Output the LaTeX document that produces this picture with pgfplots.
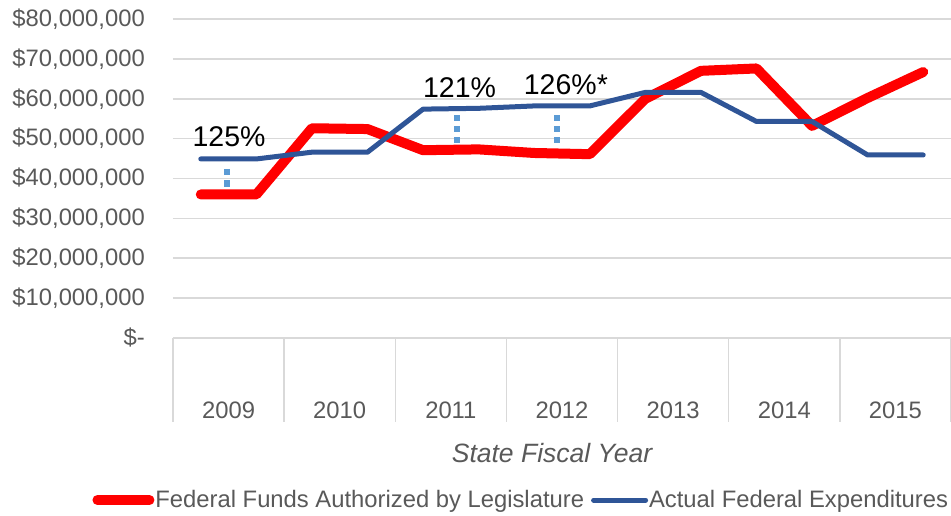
\documentclass[border=0pt]{standalone}
\usepackage{pgfplots}
\pgfplotsset{compat=1.18}
\usepackage{fontspec}
\setmainfont{Liberation Sans}

\definecolor{fedred}{HTML}{FF0000}
\definecolor{fedblue}{HTML}{2F5597}
\definecolor{dotblue}{HTML}{5B9BD5}
\definecolor{gridgray}{HTML}{D9D9D9}
\definecolor{txtgray}{HTML}{595959}

% two points per fiscal year, values in millions of dollars
\pgfplotstableread{
x    authorized actual
0.5  36.0  44.9
1.5  36.0  44.9
2.5  52.6  46.6
3.5  52.4  46.6
4.5  47.1  57.4
5.5  47.3  57.6
6.5  46.4  58.2
7.5  46.1  58.2
8.5  60.0  61.6
9.5  67.0  61.6
10.5 67.6  54.3
11.5 53.2  54.3
12.5 60.2  45.9
13.5 66.7  45.9
}\fundsdata

\begin{document}
\begin{tikzpicture}[font=\fontsize{23.8}{28}\selectfont]
\begin{axis}[
    scale only axis,
    width=778pt, height=319pt,
    xmin=0, xmax=14, ymin=0, ymax=80,
    clip=false,
    axis lines*=left,
    x axis line style={gridgray, line width=1.5pt},
    y axis line style={draw=none},
    major tick length=0pt,
    ymajorgrids,
    grid style={gridgray, line width=1.5pt},
    xtick={1,3,...,13},
    xticklabels={2009,2010,2011,2012,2013,2014,2015},
    xticklabel style={anchor=center, yshift=-72pt, text=txtgray},
    ytick={0,10,...,80},
    yticklabels={{\$-\hspace{0.6em}},{\$10,000,000},{\$20,000,000},{\$30,000,000},
        {\$40,000,000},{\$50,000,000},{\$60,000,000},{\$70,000,000},{\$80,000,000}},
    yticklabel style={anchor=east, inner sep=0pt, xshift=-28pt, text=txtgray},
    xlabel={\itshape State Fiscal Year},
    xlabel style={at={(axis description cs:0.5,0)}, anchor=center, yshift=-115pt, xshift=-10pt,
        text=txtgray, font=\fontsize{26.5}{31}\selectfont},
    legend columns=2,
    legend style={at={(axis description cs:0.447,-0.508)}, anchor=center, draw=none,
        text=txtgray, nodes={inner sep=1pt},
        /tikz/every even column/.append style={column sep=6pt}},
    legend image code/.code={\draw[#1, line cap=round] (0pt,0pt) -- (52pt,0pt);},
]
\addplot[fedred, line width=10pt, line cap=round, line join=round]
    table[x=x, y=authorized] {\fundsdata};
\addlegendentry{Federal Funds Authorized by Legislature}
\addplot[fedblue, line width=5pt, line cap=round, line join=round]
    table[x=x, y=actual] {\fundsdata};
\addlegendentry{Actual Federal Expenditures}

% category separators below the axis
\pgfplotsinvokeforeach{0,2,4,6,8,10,12,14}{
    \draw[gridgray, line width=1.5pt] (axis cs:#1,0) -- ++(0pt,-84pt);
}

% gap markers and ratios
\draw[dotblue, line width=6pt, dash pattern=on 6.5pt off 5pt] (axis cs:0.966,42.4) -- (axis cs:0.966,37.8);
\draw[dotblue, line width=6pt, dash pattern=on 5.7pt off 5.5pt] (axis cs:5.105,55.9) -- (axis cs:5.105,48.9);
\draw[dotblue, line width=6pt, dash pattern=on 5.7pt off 5.5pt] (axis cs:6.905,55.9) -- (axis cs:6.905,48.9);
\node[font=\fontsize{28.5}{34}\selectfont] at (axis cs:1.008,50.4) {125\%};
\node[font=\fontsize{28.5}{34}\selectfont] at (axis cs:5.156,62.7) {121\%};
\node[font=\fontsize{28.5}{34}\selectfont] at (axis cs:7.07,63.6) {126\%*};
\end{axis}
\pgfresetboundingbox
\path[use as bounding box] (-173pt,-178pt) rectangle (778pt,338pt);
\end{tikzpicture}
\end{document}
